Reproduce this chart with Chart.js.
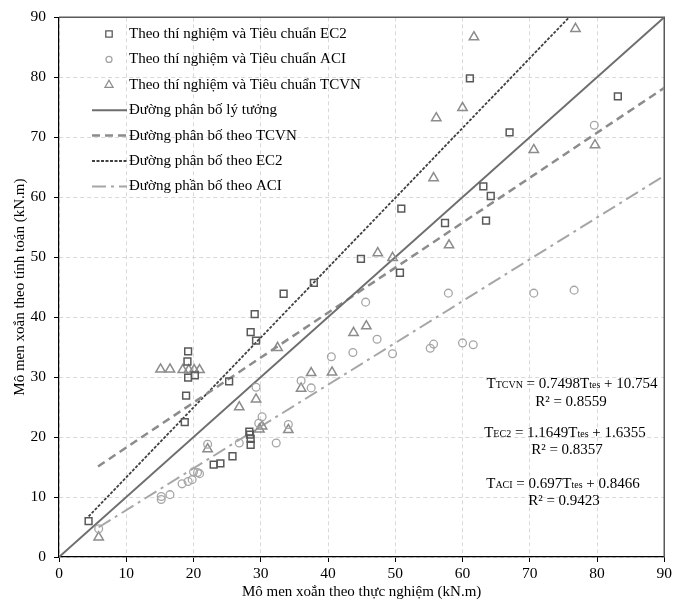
<!DOCTYPE html>
<html>
<head>
<meta charset="utf-8">
<script src="https://cdn.jsdelivr.net/npm/chart.js@4.4.1/dist/chart.umd.min.js"></script>
<style>
  body { margin: 0; background: #fff; }
  canvas { display: block; }
</style>
</head>
<body>
<canvas id="torsionChart" width="675" height="603"></canvas>
<script>
// measured vs computed torsion moment (kN.m)
const ec2X = [4.4, 18.7, 18.9, 19.2, 20.2, 19.1, 19.2, 23.0, 24.0, 25.3, 25.8, 28.3, 28.4, 28.5, 28.5,
    28.5, 29.1, 29.3, 33.4, 37.9, 44.9, 50.7, 50.9, 57.4, 61.1, 63.1, 63.5, 64.2, 67.0, 83.1];
const ec2Y = [6.0, 22.5, 26.9, 29.9, 30.3, 32.6, 34.3, 15.4, 15.6, 29.3, 16.8, 20.9, 20.4, 19.7, 18.7,
    37.5, 40.5, 36.1, 43.9, 45.7, 49.7, 47.4, 58.1, 55.7, 79.8, 61.8, 56.1, 60.2, 70.8, 76.8];

const aciX = [5.9, 15.2, 15.2, 16.5, 18.3, 19.2, 19.8, 20.0, 20.6, 20.9, 22.1, 26.8, 29.3, 29.7, 30.2, 32.3,
    34.1, 36.0, 37.5, 40.5, 43.7, 45.6, 47.3, 49.6, 55.2, 55.7, 57.9, 60.0, 61.6, 70.6, 76.6, 79.6];
const aciY = [4.7, 10.1, 9.6, 10.4, 12.2, 12.6, 12.9, 14.2, 14.1, 13.9, 18.8, 19.0, 28.3, 22.3, 23.4, 19.0,
    22.1, 29.4, 28.2, 33.4, 34.1, 42.5, 36.3, 33.9, 34.8, 35.5, 44.0, 35.7, 35.4, 44.0, 44.5, 72.0];

const tcvnX = [5.9, 15.1, 16.5, 18.4, 19.3, 20.1, 20.9, 22.1, 26.8, 29.3, 29.8, 30.2, 32.5, 34.1, 36.0,
    37.5, 40.6, 43.8, 45.7, 47.4, 49.6, 55.7, 56.1, 58.0, 60.0, 61.7, 70.6, 76.8, 79.7];
const tcvnY = [3.3, 31.3, 31.3, 31.2, 31.2, 31.2, 31.2, 18.0, 25.0, 26.3, 21.3, 21.8, 34.9, 21.2, 28.1,
    30.7, 30.8, 37.4, 38.5, 50.7, 49.9, 63.2, 73.2, 52.0, 74.9, 86.7, 67.9, 88.1, 68.7];

// trend lines: TCVN, EC2, ACI
const trendSlope = [0.7498, 1.1649, 0.697];
const trendIntercept = [10.754, 1.6355, 0.8466];
const trendStart = [5.8, 4.4, 5.9];
const trendEnd = 90;

const axisTicks = [0, 10, 20, 30, 40, 50, 60, 70, 80, 90];

const legendLabels = [
    'Theo thí nghiệm và Tiêu chuẩn EC2',
    'Theo thí nghiệm và Tiêu chuẩn ACI',
    'Theo thí nghiệm và Tiêu chuẩn TCVN',
    'Đường phân bố lý tưởng',
    'Đường phân bố theo TCVN',
    'Đường phân bố theo EC2',
    'Đường phần bố theo ACI'
];

const FONT = "'Liberation Serif', 'Times New Roman', serif";

function pairs(xs, ys) {
    return xs.map((x, i) => ({ x: x, y: ys[i] }));
}

function trendLine(i) {
    return [trendStart[i], trendEnd].map(x => ({ x: x, y: trendSlope[i] * x + trendIntercept[i] }));
}

const datasets = [
    { label: legendLabels[0], data: pairs(ec2X, ec2Y), pointStyle: 'rect', pointRadius: 4.8,
      borderColor: '#595959', backgroundColor: 'rgba(0,0,0,0)', pointBorderWidth: 1.5, showLine: false, order: 1 },
    { label: legendLabels[1], data: pairs(aciX, aciY), pointStyle: 'circle', pointRadius: 3.9,
      borderColor: '#a6a6a6', backgroundColor: 'rgba(0,0,0,0)', pointBorderWidth: 1.3, showLine: false, order: 1 },
    { label: legendLabels[2], data: pairs(tcvnX, tcvnY), pointStyle: 'triangle', pointRadius: 5.4,
      borderColor: '#8c8c8c', backgroundColor: 'rgba(0,0,0,0)', pointBorderWidth: 1.5, showLine: false, order: 1 },
    { label: legendLabels[3], data: [{ x: 0, y: 0 }, { x: 90, y: 90 }], showLine: true, pointRadius: 0,
      borderColor: '#6e6e6e', borderWidth: 2, borderDash: [], order: 2 },
    { label: legendLabels[4], data: trendLine(0), showLine: true, pointRadius: 0,
      borderColor: '#8c8c8c', borderWidth: 2.5, borderDash: [8, 5], order: 2 },
    { label: legendLabels[5], data: trendLine(1), showLine: true, pointRadius: 0,
      borderColor: '#404040', borderWidth: 1.8, borderDash: [3, 1.5], order: 2 },
    { label: legendLabels[6], data: trendLine(2), showLine: true, pointRadius: 0,
      borderColor: '#a6a6a6', borderWidth: 2, borderDash: [14, 5, 3, 5], order: 2 }
];

// top + right frame of the plot
const framePlugin = {
    id: 'frame',
    beforeDatasetsDraw(chart) {
        const { ctx, chartArea: a } = chart;
        ctx.save();
        ctx.strokeStyle = '#595959';
        ctx.lineWidth = 1.5;
        ctx.beginPath();
        ctx.moveTo(a.left, a.top);
        ctx.lineTo(a.right, a.top);
        ctx.lineTo(a.right, a.bottom);
        ctx.stroke();
        ctx.restore();
    }
};

// legend drawn inside the plot, top-left
const insideLegend = {
    id: 'insideLegend',
    afterDraw(chart) {
        const ctx = chart.ctx;
        ctx.save();
        ctx.font = '15px ' + FONT;
        ctx.textBaseline = 'middle';
        ctx.fillStyle = '#000';
        chart.data.datasets.forEach(function (ds, i) {
            const y = 34 + i * 25.4;
            ctx.save();
            ctx.strokeStyle = ds.borderColor;
            if (i < 3) {
                ctx.lineWidth = 1.3;
                const mx = 109;
                ctx.beginPath();
                if (ds.pointStyle === 'rect') {
                    ctx.rect(mx - 3.2, y - 3.2, 6.4, 6.4);
                } else if (ds.pointStyle === 'circle') {
                    ctx.arc(mx, y, 3, 0, Math.PI * 2);
                } else {
                    ctx.moveTo(mx, y - 4.5);
                    ctx.lineTo(mx + 4, y + 2.5);
                    ctx.lineTo(mx - 4, y + 2.5);
                    ctx.closePath();
                }
                ctx.stroke();
            } else {
                ctx.lineWidth = ds.borderWidth;
                ctx.setLineDash(ds.borderDash);
                ctx.beginPath();
                ctx.moveTo(92, y);
                ctx.lineTo(127, y);
                ctx.stroke();
            }
            ctx.restore();
            ctx.fillText(ds.label, 129, y);
        });
        ctx.restore();
    }
};

// regression equations, with small subscripts
const equationLines = [
    { cx: 572, cy: 383, parts: [['T', 15], ['TCVN', 10], [' = 0.7498T', 15], ['tes', 10], [' + 10.754', 15]] },
    { cx: 571, cy: 401, parts: [['R² = 0.8559', 15]] },
    { cx: 565, cy: 432, parts: [['T', 15], ['EC2', 10], [' = 1.1649T', 15], ['tes', 10], [' + 1.6355', 15]] },
    { cx: 567, cy: 449, parts: [['R² = 0.8357', 15]] },
    { cx: 563, cy: 483, parts: [['T', 15], ['ACI', 10], [' = 0.697T', 15], ['tes', 10], [' + 0.8466', 15]] },
    { cx: 564, cy: 500, parts: [['R² = 0.9423', 15]] }
];

const equationsPlugin = {
    id: 'equations',
    afterDraw(chart) {
        const ctx = chart.ctx;
        ctx.save();
        ctx.fillStyle = '#000';
        ctx.textBaseline = 'alphabetic';
        equationLines.forEach(function (line) {
            let total = 0;
            line.parts.forEach(function (p) {
                ctx.font = p[1] + 'px ' + FONT;
                total += ctx.measureText(p[0]).width;
            });
            let x = line.cx - total / 2;
            line.parts.forEach(function (p) {
                ctx.font = p[1] + 'px ' + FONT;
                ctx.fillText(p[0], x, line.cy + 5);
                x += ctx.measureText(p[0]).width;
            });
        });
        ctx.restore();
    }
};

function axisOptions(title, isX) {
    return {
        type: 'linear',
        min: 0,
        max: 90,
        afterBuildTicks: function (scale) {
            scale.ticks = axisTicks.map(v => ({ value: v }));
        },
        afterFit: function (scale) {
            if (isX) scale.height = 46; else scale.width = 59;
        },
        grid: {
            color: '#d9d9d9',
            lineWidth: 1,
            tickLength: 5,
            tickColor: '#000',
            tickWidth: 1
        },
        border: { display: true, color: '#000', width: 1.2, dash: [4, 3] },
        ticks: {
            font: { family: FONT, size: 15.5 },
            color: '#000',
            padding: isX ? 3 : 8
        },
        title: {
            display: true,
            text: title,
            font: { family: FONT, size: 15 },
            color: '#000',
            padding: isX ? { top: 0, bottom: 2 } : { top: 11, bottom: 0 }
        }
    };
}

new Chart(document.getElementById('torsionChart'), {
    type: 'scatter',
    data: { datasets: datasets },
    options: {
        responsive: false,
        animation: false,
        layout: { autoPadding: false, padding: { top: 16, right: 9, left: 0, bottom: 0 } },
        plugins: {
            legend: { display: false },
            tooltip: { enabled: false }
        },
        scales: {
            x: axisOptions('Mô men xoắn theo thực nghiệm (kN.m)', true),
            y: axisOptions('Mô men xoắn theo tính toán (kN.m)', false)
        }
    },
    plugins: [framePlugin, insideLegend, equationsPlugin]
});
</script>
</body>
</html>
